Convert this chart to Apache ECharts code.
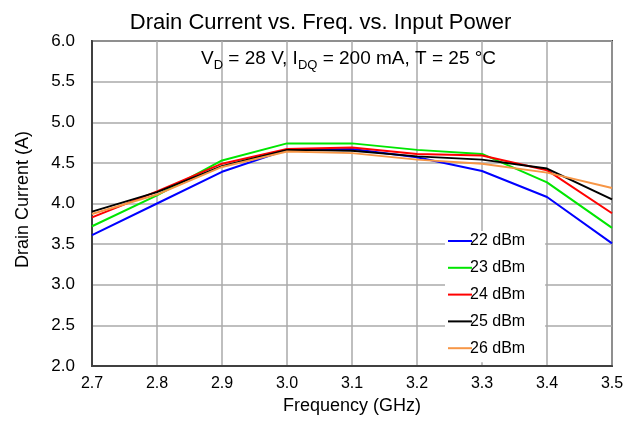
<!DOCTYPE html>
<html><head><meta charset="utf-8">
<script src="https://cdn.jsdelivr.net/npm/echarts@6/dist/echarts.min.js"></script>
<style>html,body{margin:0;padding:0;background:#fff}#c{width:641px;height:425px}</style>
</head><body><div id="c"></div>
<script>
const categories = [2.7, 2.8, 2.9, 3.0, 3.1, 3.2, 3.3, 3.4, 3.5];
const xTicks = ['2.7','2.8','2.9','3.0','3.1','3.2','3.3','3.4','3.5'];
const s22 = [3.61, 4.00, 4.39, 4.66, 4.67, 4.57, 4.40, 4.08, 3.51];
const s23 = [3.72, 4.10, 4.53, 4.74, 4.74, 4.66, 4.61, 4.26, 3.70];
const s24 = [3.83, 4.15, 4.49, 4.67, 4.69, 4.61, 4.59, 4.41, 3.88];
const s25 = [3.90, 4.14, 4.46, 4.66, 4.65, 4.58, 4.54, 4.43, 4.05];
const s26 = [3.87, 4.11, 4.45, 4.64, 4.62, 4.54, 4.49, 4.38, 4.19];
const seriesNames = ['22 dBm','23 dBm','24 dBm','25 dBm','26 dBm'];
const seriesColors = ['#0000ff','#00e600','#ff0000','#000000','#f79646'];
const seriesData = [s22, s23, s24, s25, s26];

const chart = echarts.init(document.getElementById('c'), null, {renderer:'canvas'});
const font = 'Arial, "Liberation Sans", sans-serif';
chart.setOption({
  animation: false,
  backgroundColor: '#fff',
  title: {
    text: 'Drain Current vs. Freq. vs. Input Power',
    left: 'center', top: 7,
    textStyle: {fontFamily: font, fontSize: 22, fontWeight: 'normal', color: '#000'}
  },
  grid: {left: 92, right: 29, top: 41, bottom: 59, show: true, borderColor: '#404040', borderWidth: 2, containLabel: false},
  legend: {
    orient: 'vertical', left: 445, top: 231, itemWidth: 24, itemHeight: 2, itemGap: 10.8,
    icon: 'rect', itemStyle: {borderWidth: 0},
    backgroundColor: '#fff', padding: [2, 20, 6, 3],
    textStyle: {fontFamily: font, fontSize: 16, color: '#000', padding: [0,0,0,-7]},
    data: seriesNames
  },
  graphic: [{
    type: 'text', left: 201, top: 49, z: 10,
    style: {
      text: '{n|V}{s|D}{n| = 28 V, I}{s|DQ}{n| = 200 mA, T = 25 °C}',
      rich: {
        n: {fontFamily: font, fontSize: 19, fill: '#000', verticalAlign: 'bottom', lineHeight: 22},
        s: {fontFamily: font, fontSize: 13, fill: '#000', verticalAlign: 'bottom', lineHeight: 15, padding: [0,0,-4,0]}
      }
    }
  }],
  xAxis: {
    type: 'value', min: 2.7, max: 3.5, interval: 0.1,
    name: 'Frequency (GHz)', nameLocation: 'middle', nameGap: 29,
    nameTextStyle: {fontFamily: font, fontSize: 18, color: '#000'},
    axisLine: {show: true, lineStyle: {color: '#404040', width: 2}},
    axisTick: {show: false},
    axisLabel: {fontFamily: font, fontSize: 16, color: '#000', margin: 10,
      formatter: v => { const i = Math.round((v - 2.7) * 10); return xTicks[i] !== undefined ? xTicks[i] : ''; }},
    splitLine: {show: true, lineStyle: {color: '#aaaaaa', width: 1.5}}
  },
  yAxis: {
    type: 'value', min: 2.0, max: 6.0, interval: 0.5,
    name: 'Drain Current (A)', nameLocation: 'middle', nameGap: 60,
    nameTextStyle: {fontFamily: font, fontSize: 18, color: '#000', padding: [0, 0, 0, 8]},
    axisLine: {show: true, lineStyle: {color: '#404040', width: 2}},
    axisTick: {show: false},
    axisLabel: {fontFamily: font, fontSize: 17, color: '#000', margin: 17, formatter: v => v.toFixed(1)},
    splitLine: {show: true, lineStyle: {color: '#aaaaaa', width: 1.5}}
  },
  series: seriesData.map((d, i) => ({
    name: seriesNames[i], type: 'line', symbol: 'none',
    color: seriesColors[i],
    lineStyle: {width: 2, color: seriesColors[i]},
    data: d.map((v, j) => [categories[j], v])
  }))
});
</script></body></html>
